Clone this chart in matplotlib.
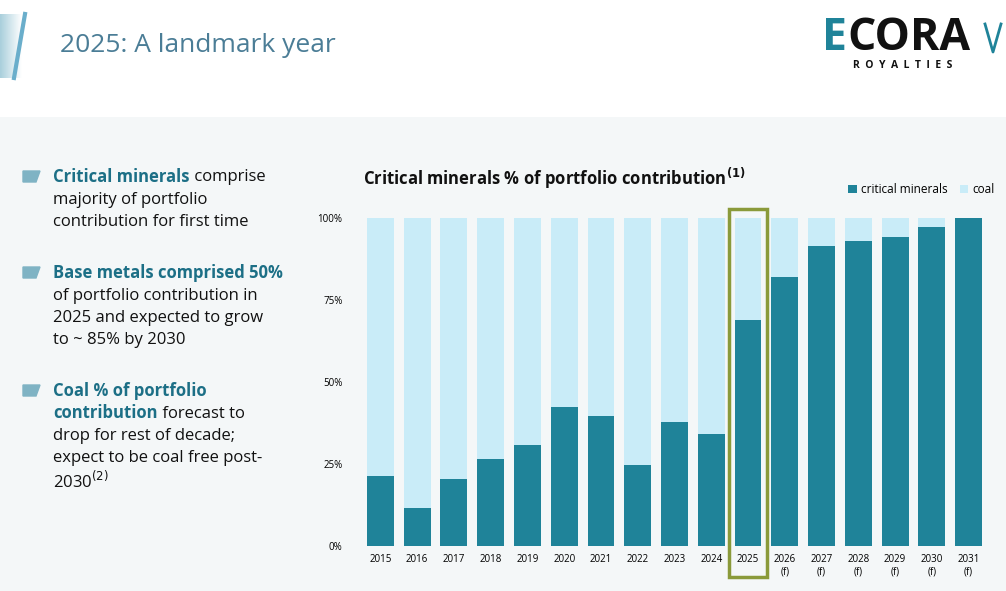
import matplotlib
matplotlib.use("Agg")
import matplotlib.pyplot as plt
from matplotlib.patches import Rectangle, Polygon
import numpy as np

years = ["2015","2016","2017","2018","2019","2020","2021","2022","2023","2024","2025",
         "2026\n(f)","2027\n(f)","2028\n(f)","2029\n(f)","2030\n(f)","2031\n(f)"]
critical = [21.3,11.6,20.4,26.5,30.8,42.4,39.6,24.7,37.8,34.1,68.9,82.0,91.5,93.0,94.2,97.3,100.0]
coal = [100 - c for c in critical]
yticks = [0,25,50,75,100]
ytick_labels = ["0%","25%","50%","75%","100%"]

DARK = "#1f8399"
LIGHT = "#c9ecf8"
TEAL_TXT = "#1c6f86"
W, H = 1006, 591
fig = plt.figure(figsize=(W/100, H/100), dpi=100)
fig.patch.set_facecolor("white")
plt.rcParams['font.family'] = ['Open Sans', 'DejaVu Sans']

def fx(x): return x / W
def fy(y): return 1 - y / H

bg = fig.add_axes([0, 0, 1, fy(117)], zorder=-2)
bg.set_axis_off()
bg.add_patch(Rectangle((0, 0), 1, 1, color="#f4f7f8", transform=bg.transAxes))

deco = fig.add_axes([0, 0, 1, 1], zorder=5)
deco.set_axis_off(); deco.patch.set_alpha(0)
grad = np.linspace(1, 0, 50).reshape(1, -1)
cm = matplotlib.colors.LinearSegmentedColormap.from_list("g", ["#ffffff", "#a9cfdc"])
deco.imshow(grad, extent=[0, 22, 78, 14], cmap=cm, aspect="auto")
deco.plot([25, 14], [14, 78], color="#6aaecb", lw=3)
deco.plot([985, 993, 1001], [24, 52, 24], color="#1f8399", lw=2)
deco.set_xlim(0, W); deco.set_ylim(H, 0)

fig.text(fx(60), fy(45), "2025: A landmark year", fontsize=19, color="#4b7d96", va="center", ha="left")
fig.canvas.draw()
r = fig.canvas.get_renderer()
t1 = fig.text(fx(822), fy(39), "E", fontsize=32, fontweight="bold", color=DARK, va="center", ha="left")
w1 = t1.get_window_extent(renderer=r).width
fig.text(fx(822 + w1), fy(39), "CORA", fontsize=32, fontweight="bold", color="#111111", va="center", ha="left")
fig.text(fx(903), fy(66), "R  O  Y  A  L  T  I  E  S", fontsize=7.5, color="#111111", va="center", ha="center", fontweight="bold")

def seg_line(x, y, parts, fs=12):
    for s, bold in parts:
        t = fig.text(fx(x), fy(y), s, fontsize=fs, color=TEAL_TXT if bold else "#111111",
                     fontweight="bold" if bold else "normal", va="center", ha="left")
        bb = t.get_window_extent(renderer=r)
        x += bb.width
bullets = [
    (177, [[("Critical minerals", True), (" comprise", False)], [("majority of portfolio", False)], [("contribution for first time", False)]]),
    (273, [[("Base metals comprised 50%", True)], [("of portfolio contribution in", False)], [("2025 and expected to grow", False)], [("to ~ 85% by 2030", False)]]),
    (391, [[("Coal % of portfolio", True)], [("contribution", True), (" forecast to", False)], [("drop for rest of decade;", False)], [("expect to be coal free post-", False)], [("2030$^{(2)}$", False)]]),
]
for y0, lines in bullets:
    deco.add_patch(Polygon([[23, y0-6], [40, y0-6], [36, y0+5], [23, y0+5]], color="#7fb3c4"))
    for i, ln in enumerate(lines):
        seg_line(53, y0 + i*22.5, ln)

ax = fig.add_axes([fx(362), fy(546), fx(987-362), fy(218) - fy(546)])
ax.set_facecolor("none")
x = np.arange(len(years))
ax.bar(x, critical, width=0.73, color=DARK, label="critical minerals")
ax.bar(x, coal, bottom=critical, width=0.73, color=LIGHT, label="coal")
ax.set_xlim(-0.5, len(years) - 0.5)
ax.set_ylim(0, 100)
ax.set_yticks(yticks); ax.set_yticklabels(ytick_labels, fontsize=7)
ax.set_xticks(x); ax.set_xticklabels(years, fontsize=7, va="top")
for s in ax.spines.values(): s.set_visible(False)
ax.tick_params(length=0, pad=6)
ax.tick_params(axis="y", pad=14)
ax.add_patch(Rectangle((10 - 0.52, -9.5), 1.04, 112.3, fill=False, ec="#8a9a3a", lw=2.5, clip_on=False))
ax.legend(loc="lower right", bbox_to_anchor=(1.03, 1.035), ncol=2, frameon=False, fontsize=8.5,
          handlelength=0.7, handleheight=0.7, columnspacing=1.0, handletextpad=0.4)
fig.text(fx(363), fy(178), "Critical minerals % of portfolio contribution$^{\\mathbf{(1)}}$", fontsize=12,
         fontweight="bold", color="#111111", va="center", ha="left")

fig.savefig("out.png", dpi=100)
